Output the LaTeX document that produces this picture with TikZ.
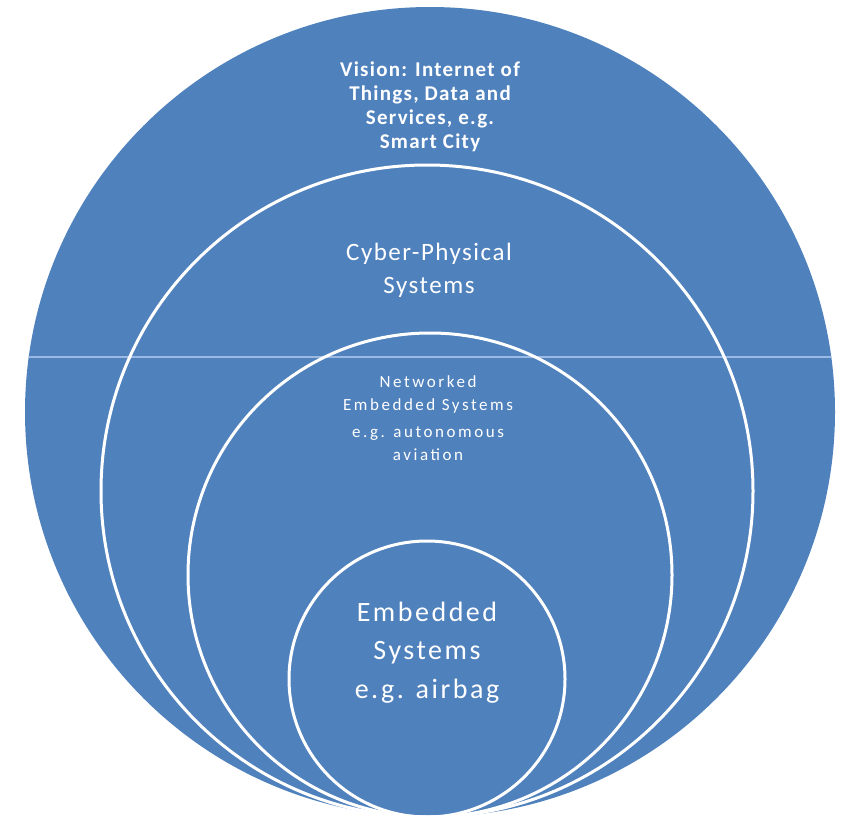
\documentclass[tikz,border=0pt]{standalone}
\usepackage{fontspec}
\setmainfont{Carlito}
\definecolor{disc}{HTML}{4F81BD}
\definecolor{rule}{HTML}{9BB9E2}
\newcommand{\txtsize}[3]{\fontsize{#1}{#2}\selectfont\addfontfeatures{LetterSpace=#3}}
\begin{document}
\begin{tikzpicture}
  [
    x=1pt, y=-1pt,
    rng/.style={white, line width=3pt},
    txt/.style={text=white, align=center, inner sep=0pt}
  ]
  \useasboundingbox (0,0) rectangle (843,819);
  \coordinate (C0) at (430, 412);
  \coordinate (C1) at (427, 491);
  \coordinate (C2) at (430, 575);
  \coordinate (C3) at (427, 679);
  \fill [disc] (C0) circle (405pt);
  \begin{scope}
    \clip (C0) circle (405pt);
    \coordinate (H1) at (0, 357);
    \coordinate (H2) at (843, 357);
    \draw [rule, line width=1.5pt] (H1) -- (H2);
  \end{scope}
  \draw [rng] (C1) circle (326pt);
  \draw [rng] (C2) circle (242pt);
  \draw [rng] (C3) circle (138pt);
  \node [txt, font=\bfseries\txtsize{21}{24}{6}] (vis) at (430, 107)
    {Vision: Internet of\\Things, Data and\\Services, e.g.\\Smart City};
  \node [txt, font=\txtsize{25}{33}{6}] (cps) at (429, 270)
    {Cyber-Physical\\Systems};
  \node [txt, font=\txtsize{17}{23}{15}] (nes) at (428, 394)
    {Networked\\Embedded Systems};
  \node [txt, font=\txtsize{17}{23}{15}] (nex) at (428, 444)
    {e.g. autonomous\\aviation};
  \node [txt, font=\txtsize{28}{38}{9}] (es) at (427, 633)
    {Embedded\\Systems};
  \node [txt, font=\txtsize{28}{38}{9}] (esx) at (427, 691)
    {e.g. airbag};
\end{tikzpicture}
\end{document}
